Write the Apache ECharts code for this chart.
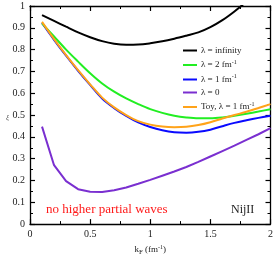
<!DOCTYPE html>
<html><head><meta charset="utf-8">
<script src="https://cdn.jsdelivr.net/npm/echarts@6/dist/echarts.min.js"></script>
<style>html,body{margin:0;padding:0;background:#fff}#c{width:276px;height:261px}</style>
</head><body><div id="c"></div>
<script>
var kF = [0.1,0.2,0.3,0.4,0.5,0.6,0.7,0.8,0.9,1.0,1.1,1.2,1.3,1.4,1.5,1.6,1.7,1.8,1.9,2.0];
var lamInf = [0.958,0.932,0.905,0.879,0.857,0.839,0.827,0.822,0.823,0.829,0.838,0.85,0.864,0.879,0.903,0.935,0.975,1.02,null,null];
var lam2 = [0.92,0.86,0.8,0.745,0.692,0.645,0.607,0.576,0.55,0.527,0.51,0.497,0.489,0.485,0.485,0.489,0.497,0.506,0.516,0.527];
var lam1 = [0.922,0.845,0.772,0.703,0.638,0.576,0.532,0.496,0.466,0.445,0.43,0.421,0.419,0.423,0.433,0.449,0.464,0.476,0.487,0.497];
var lam0 = [0.447,0.27,0.197,0.16,0.148,0.147,0.155,0.168,0.185,0.203,0.222,0.241,0.262,0.285,0.31,0.335,0.36,0.386,0.412,0.44];
var toy1 = [0.927,0.848,0.775,0.706,0.641,0.58,0.535,0.5,0.472,0.456,0.447,0.444,0.446,0.454,0.467,0.484,0.5,0.515,0.532,0.55];
var xTicks = [0,0.5,1,1.5,2];
var yTicks = [0,0.1,0.2,0.3,0.4,0.5,0.6,0.7,0.8,0.9,1];

function pairs(v){ var o=[]; for(var i=0;i<kF.length;i++){ if(v[i]!==null) o.push([kF[i],v[i]]); } return o; }
var serif = '"Liberation Serif","DejaVu Serif",serif';
var chart = echarts.init(document.getElementById('c'));
function sup(name){
  var m = name.match(/^(.*fm)(-1)$/);
  if(m) return '{a|'+m[1]+'}{s|'+m[2]+'}';
  return '{a|'+name+'}';
}
var axisCommon = {
  min:0, axisLine:{onZero:false,lineStyle:{color:'#000',width:1.3}},
  axisTick:{inside:true,length:5,lineStyle:{color:'#000',width:1.2}},
  minorTick:{show:true,splitNumber:2,length:3,lineStyle:{color:'#000',width:1}},
  splitLine:{show:false}
};
var names = ['λ = infinity','λ = 2 fm-1','λ = 1 fm-1','λ = 0','Toy, λ = 1 fm-1'];
var colors = ['#000000','#22ee22','#0a0aff','#7a2fd0','#ffa31a'];
var vals = [lamInf,lam2,lam1,lam0,toy1];
var zs = [5,4,3,2,6];
var series = names.map(function(n,i){
  return {name:n,type:'line',data:pairs(vals[i]),showSymbol:false,symbol:'none',smooth:(i===3?false:0.35),
    lineStyle:{color:colors[i],width:2},itemStyle:{color:colors[i]},clip:true,animation:false,z:zs[i]};
});
chart.setOption({
  animation:false,
  grid:{left:30,right:5,top:6,bottom:29},
  xAxis:[
    Object.assign({},axisCommon,{type:'value',max:2,interval:0.5,position:'bottom',
      axisLabel:{fontFamily:serif,fontSize:10,color:'#222',margin:5,formatter:function(v){return String(v);}},
      name:'{a|k}{b|F}{a| (fm}{s|-1}{a|)}',nameLocation:'middle',nameGap:18,
      nameTextStyle:{rich:{a:{fontFamily:serif,fontSize:9,color:'#222'},b:{fontFamily:serif,fontSize:7,color:'#222',padding:[5,0,0,0]},s:{fontFamily:serif,fontSize:6,color:'#222',padding:[0,0,6,0]}}}}),
    Object.assign({},axisCommon,{type:'value',max:2,interval:0.5,position:'top',axisLabel:{show:false}})
  ],
  yAxis:[
    Object.assign({},axisCommon,{type:'value',max:1,interval:0.1,position:'left',
      axisLabel:{fontFamily:serif,fontSize:10,color:'#222',margin:5,formatter:function(v){return String(Math.round(v*10)/10);}}}),
    Object.assign({},axisCommon,{type:'value',max:1,interval:0.1,position:'right',axisLabel:{show:false}})
  ],
  legend:{orient:'vertical',left:178,top:41,itemWidth:14,itemHeight:2,itemGap:4,icon:'rect',
    data:names,selectedMode:false,
    formatter:sup,
    textStyle:{padding:[0,0,0,-1],rich:{a:{fontFamily:serif,fontSize:9,color:'#222',height:9},s:{fontFamily:serif,fontSize:6,color:'#222',padding:[0,0,6,0]}}}},
  graphic:[
    {type:'text',left:46,top:203,style:{text:'no higher partial waves',fontFamily:serif,fontSize:13,fill:'#ff1a1a'}},
    {type:'text',left:231,top:204,style:{text:'NijII',fontFamily:serif,fontSize:12,fill:'#222'}},
    {type:'text',left:6,top:114,style:{text:'ξ',fontFamily:serif,fontSize:7,fontStyle:'italic',fill:'#444'}}
  ],
  series:series
});
</script></body></html>
